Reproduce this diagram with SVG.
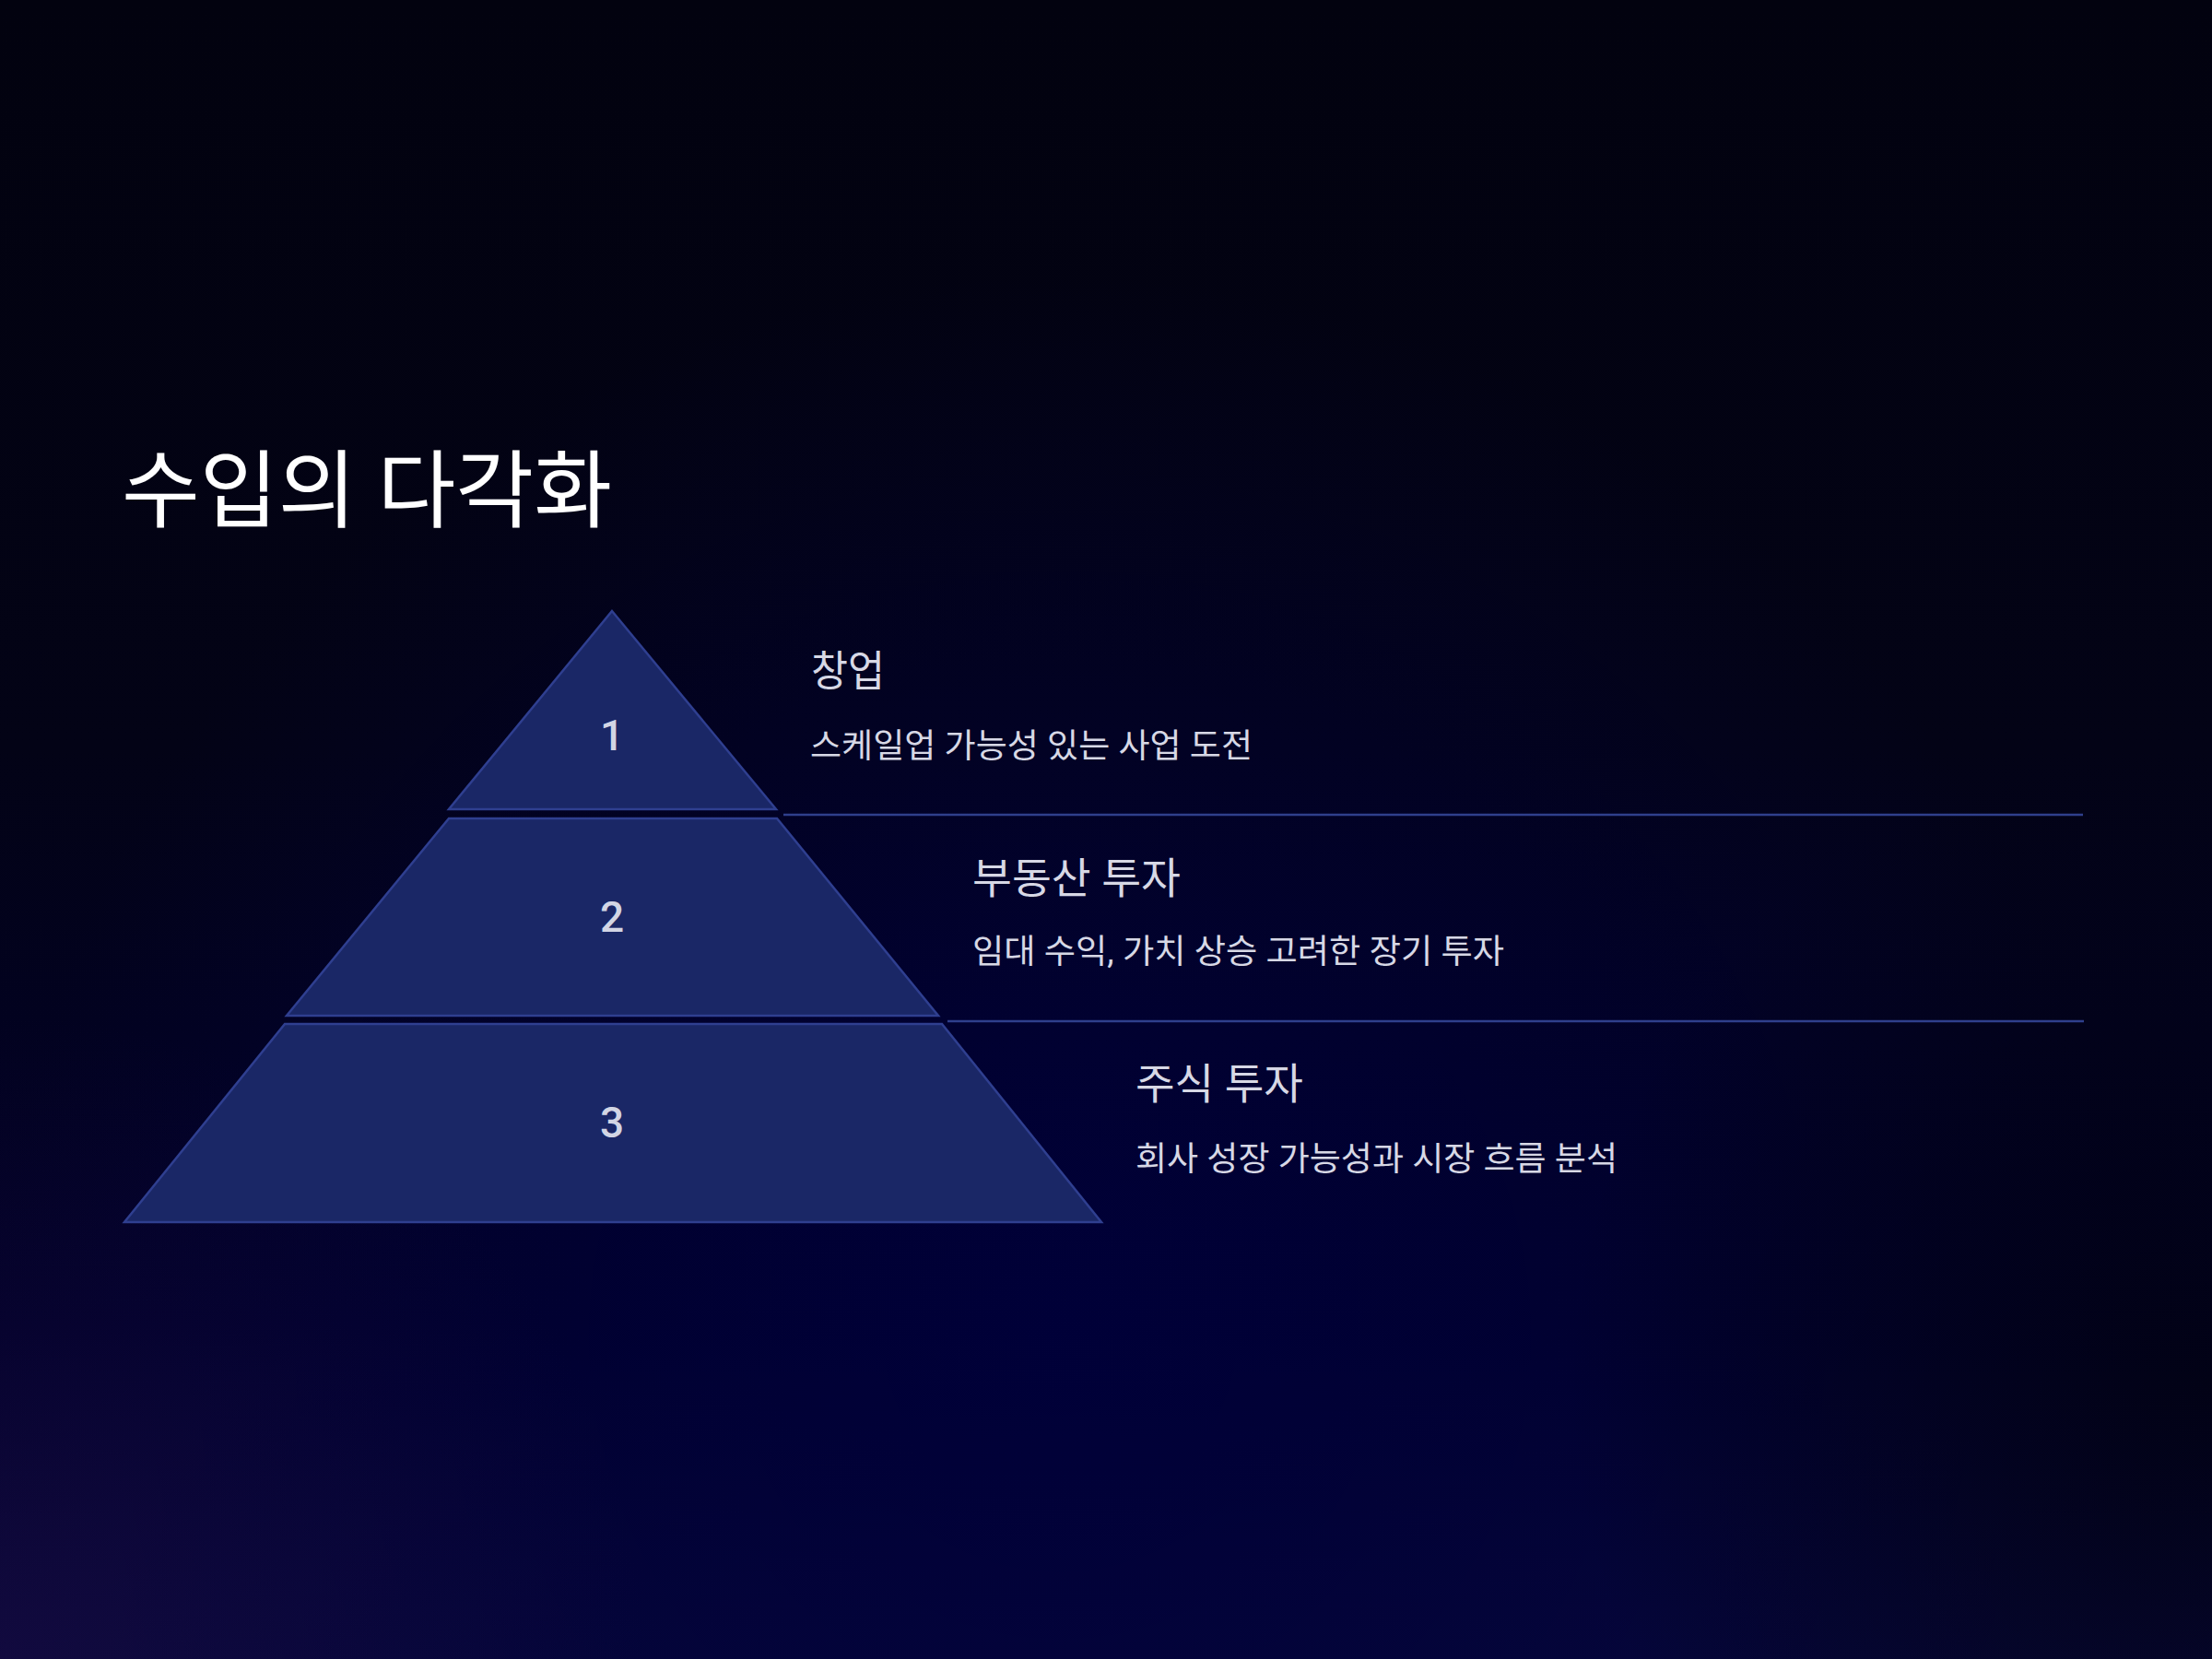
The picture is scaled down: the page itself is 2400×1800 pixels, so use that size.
<svg xmlns="http://www.w3.org/2000/svg" width="2400" height="1800" viewBox="0 0 2400 1800">
<defs>
<linearGradient id="bg" x1="0" y1="0" x2="0" y2="1">
<stop offset="0" stop-color="#02020f"/>
<stop offset="0.45" stop-color="#030316"/>
<stop offset="0.8" stop-color="#01012a"/>
<stop offset="1" stop-color="#07083a"/>
</linearGradient>
<radialGradient id="navy" cx="1150" cy="1450" r="1150" gradientUnits="userSpaceOnUse">
<stop offset="0" stop-color="#00003a" stop-opacity="0.9"/>
<stop offset="1" stop-color="#00003a" stop-opacity="0"/>
</radialGradient>
<radialGradient id="purple" cx="0" cy="1800" r="700" gradientUnits="userSpaceOnUse">
<stop offset="0" stop-color="#2a0f4a" stop-opacity="0.3"/>
<stop offset="1" stop-color="#2a0f4a" stop-opacity="0"/>
</radialGradient>
<radialGradient id="dark" cx="2400" cy="1500" r="700" gradientUnits="userSpaceOnUse">
<stop offset="0" stop-color="#020210" stop-opacity="0.8"/>
<stop offset="1" stop-color="#020210" stop-opacity="0"/>
</radialGradient>
</defs>
<style>
.tier{fill:#1a2766;stroke:#2f3f90;stroke-width:2.5;stroke-linejoin:miter}
.num{font-family:Roboto,"Noto Sans CJK KR",sans-serif;font-size:46px;font-weight:500;fill:#d2d5e4;text-anchor:middle}
.title{font-family:Roboto,"Noto Sans CJK KR",sans-serif;font-size:92px;fill:#ffffff}
.head{font-family:Roboto,"Noto Sans CJK KR",sans-serif;font-size:46px;fill:#d7d8e5}
.desc{font-family:Roboto,"Noto Sans CJK KR",sans-serif;font-size:36px;fill:#d7d8e5}
.sep{stroke:#2f3f8c;stroke-width:2.5;fill:none}
</style>
<rect width="2400" height="1800" fill="url(#bg)"/>
<rect width="2400" height="1800" fill="url(#navy)"/>
<rect width="2400" height="1800" fill="url(#purple)"/>
<rect width="2400" height="1800" fill="url(#dark)"/>

<g id="title"><text class="title" x="132" y="565" textLength="532" lengthAdjust="spacingAndGlyphs">수입의 다각화</text></g>

<g id="connectors">
<line class="sep" x1="850" y1="884" x2="2260" y2="884"/>
<line class="sep" x1="1028" y1="1108" x2="2261" y2="1108"/>
</g>

<g id="tier1">
<polygon class="tier" points="664,663 842,878 487,878"/>
<text class="num" x="664" y="814">1</text>
<text class="head" x="880" y="744" textLength="80" lengthAdjust="spacingAndGlyphs">창업</text>
<text class="desc" x="879" y="822" textLength="480" lengthAdjust="spacingAndGlyphs">스케일업 가능성 있는 사업 도전</text>
</g>

<g id="tier2">
<polygon class="tier" points="487,888 843,888 1018,1102 311,1102"/>
<text class="num" x="664" y="1011">2</text>
<text class="head" x="1055" y="969" textLength="226" lengthAdjust="spacingAndGlyphs">부동산 투자</text>
<text class="desc" x="1055" y="1045" textLength="577" lengthAdjust="spacingAndGlyphs">임대 수익, 가치 상승 고려한 장기 투자</text>
</g>

<g id="tier3">
<polygon class="tier" points="309,1111 1022,1111 1195,1326 135,1326"/>
<text class="num" x="664" y="1234">3</text>
<text class="head" x="1232" y="1192" textLength="182" lengthAdjust="spacingAndGlyphs">주식 투자</text>
<text class="desc" x="1232" y="1270" textLength="523" lengthAdjust="spacingAndGlyphs">회사 성장 가능성과 시장 흐름 분석</text>
</g>
</svg>
